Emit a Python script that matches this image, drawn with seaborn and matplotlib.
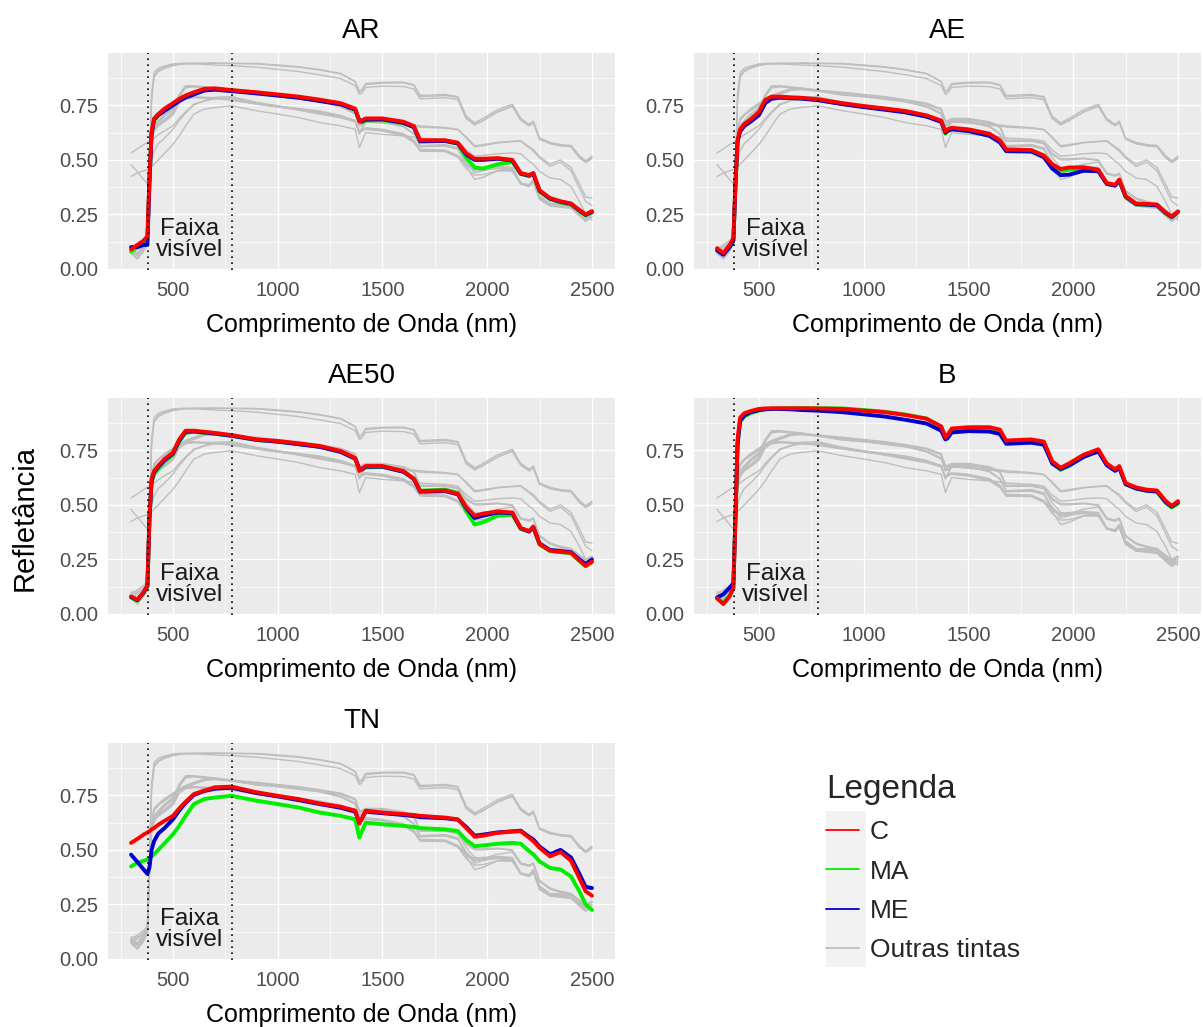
import matplotlib
matplotlib.use("Agg")
import matplotlib.pyplot as plt
import pandas as pd
import seaborn as sns
from matplotlib.lines import Line2D
from matplotlib.patches import Rectangle
from matplotlib.ticker import FixedLocator, FormatStrFormatter

# ---------------- data ----------------
WL = [300, 330, 360, 378, 388, 398, 410, 430, 460, 500, 530, 560, 600, 650, 700, 780,
      900, 1000, 1100, 1200, 1300, 1370, 1390, 1400, 1420, 1500, 1600, 1650, 1680, 1800,
      1860, 1900, 1940, 1980, 2050, 2120, 2160, 2200, 2220, 2250, 2300, 2350, 2400, 2440,
      2470, 2500]

AR_C = [0.09, 0.11, 0.13, 0.15, 0.42, 0.63, 0.69, 0.71, 0.735, 0.76, 0.78, 0.795, 0.81, 0.826, 0.828, 0.82,
        0.81, 0.80, 0.79, 0.776, 0.76, 0.735, 0.675, 0.68, 0.69, 0.69, 0.675, 0.655, 0.59, 0.59,
        0.578, 0.53, 0.505, 0.505, 0.508, 0.50, 0.44, 0.43, 0.44, 0.36, 0.325, 0.31, 0.30, 0.27, 0.25, 0.265]
AR_MA = [0.08, 0.10, 0.12, 0.14, 0.40, 0.62, 0.68, 0.705, 0.73, 0.755, 0.775, 0.79, 0.805, 0.822, 0.825, 0.818,
         0.806, 0.796, 0.786, 0.772, 0.756, 0.73, 0.68, 0.672, 0.68, 0.682, 0.668, 0.65, 0.585, 0.586,
         0.574, 0.51, 0.465, 0.46, 0.48, 0.49, 0.435, 0.425, 0.435, 0.355, 0.32, 0.305, 0.295, 0.265, 0.245, 0.26]
AR_ME = [0.10, 0.10, 0.11, 0.11, 0.40, 0.62, 0.685, 0.705, 0.725, 0.75, 0.77, 0.785, 0.80, 0.818, 0.822, 0.815,
         0.805, 0.795, 0.785, 0.77, 0.755, 0.73, 0.68, 0.676, 0.685, 0.686, 0.67, 0.65, 0.585, 0.587,
         0.575, 0.525, 0.50, 0.50, 0.505, 0.497, 0.437, 0.428, 0.437, 0.358, 0.322, 0.308, 0.298, 0.268, 0.248, 0.262]

AE_C = [0.095, 0.072, 0.11, 0.14, 0.40, 0.59, 0.64, 0.665, 0.685, 0.72, 0.775, 0.79, 0.79, 0.787, 0.785, 0.778,
        0.76, 0.747, 0.736, 0.724, 0.704, 0.68, 0.63, 0.64, 0.647, 0.64, 0.62, 0.59, 0.548, 0.545,
        0.52, 0.48, 0.458, 0.465, 0.466, 0.455, 0.394, 0.386, 0.41, 0.335, 0.30, 0.298, 0.295, 0.26, 0.24, 0.264]
AE_MA = [0.09, 0.07, 0.10, 0.13, 0.38, 0.58, 0.635, 0.66, 0.68, 0.715, 0.77, 0.785, 0.787, 0.784, 0.782, 0.775,
         0.757, 0.744, 0.733, 0.72, 0.70, 0.676, 0.62, 0.635, 0.642, 0.636, 0.615, 0.585, 0.543, 0.54,
         0.515, 0.475, 0.45, 0.455, 0.46, 0.45, 0.39, 0.382, 0.405, 0.33, 0.296, 0.294, 0.29, 0.256, 0.236, 0.26]
AE_ME = [0.085, 0.065, 0.10, 0.13, 0.39, 0.585, 0.63, 0.655, 0.675, 0.705, 0.76, 0.78, 0.785, 0.783, 0.781, 0.774,
         0.755, 0.742, 0.73, 0.718, 0.698, 0.674, 0.625, 0.632, 0.64, 0.632, 0.61, 0.58, 0.54, 0.538,
         0.512, 0.46, 0.43, 0.432, 0.45, 0.448, 0.39, 0.382, 0.405, 0.332, 0.297, 0.295, 0.292, 0.258, 0.238, 0.262]

AE50_C = [0.08, 0.065, 0.10, 0.13, 0.45, 0.62, 0.655, 0.68, 0.71, 0.74, 0.80, 0.84, 0.84, 0.835, 0.83, 0.82,
          0.80, 0.793, 0.782, 0.77, 0.747, 0.715, 0.655, 0.665, 0.678, 0.678, 0.655, 0.62, 0.563, 0.566,
          0.55, 0.49, 0.45, 0.46, 0.47, 0.465, 0.394, 0.38, 0.40, 0.32, 0.29, 0.285, 0.28, 0.245, 0.22, 0.24]
AE50_MA = [0.075, 0.06, 0.095, 0.125, 0.43, 0.60, 0.64, 0.665, 0.70, 0.73, 0.79, 0.83, 0.835, 0.83, 0.826, 0.816,
           0.797, 0.79, 0.779, 0.767, 0.744, 0.71, 0.66, 0.66, 0.672, 0.674, 0.652, 0.62, 0.565, 0.57,
           0.555, 0.47, 0.41, 0.42, 0.45, 0.455, 0.39, 0.377, 0.397, 0.318, 0.288, 0.283, 0.278, 0.243, 0.218, 0.238]
AE50_ME = [0.078, 0.063, 0.098, 0.128, 0.44, 0.61, 0.65, 0.675, 0.705, 0.735, 0.795, 0.835, 0.837, 0.832, 0.827, 0.817,
           0.798, 0.79, 0.778, 0.766, 0.743, 0.712, 0.665, 0.662, 0.675, 0.675, 0.652, 0.618, 0.56, 0.563,
           0.548, 0.485, 0.44, 0.45, 0.465, 0.462, 0.392, 0.378, 0.398, 0.322, 0.293, 0.288, 0.283, 0.25, 0.228, 0.25]

B_C = [0.072, 0.045, 0.08, 0.12, 0.45, 0.80, 0.90, 0.92, 0.93, 0.94, 0.942, 0.943, 0.943, 0.943, 0.943, 0.942,
       0.94, 0.932, 0.925, 0.912, 0.895, 0.86, 0.81, 0.82, 0.85, 0.856, 0.856, 0.845, 0.795, 0.80,
       0.79, 0.70, 0.67, 0.69, 0.73, 0.755, 0.69, 0.663, 0.678, 0.60, 0.58, 0.57, 0.566, 0.52, 0.495, 0.517]
B_MA = [0.07, 0.05, 0.085, 0.12, 0.43, 0.78, 0.88, 0.905, 0.92, 0.932, 0.938, 0.941, 0.942, 0.943, 0.944, 0.943,
        0.942, 0.935, 0.927, 0.914, 0.896, 0.858, 0.815, 0.818, 0.845, 0.852, 0.853, 0.842, 0.79, 0.795,
        0.786, 0.69, 0.66, 0.68, 0.72, 0.748, 0.685, 0.658, 0.672, 0.595, 0.575, 0.565, 0.56, 0.51, 0.488, 0.505]
B_ME = [0.075, 0.09, 0.12, 0.14, 0.45, 0.78, 0.885, 0.91, 0.925, 0.935, 0.938, 0.94, 0.94, 0.938, 0.935, 0.932,
        0.925, 0.915, 0.905, 0.89, 0.873, 0.84, 0.80, 0.805, 0.832, 0.838, 0.836, 0.825, 0.78, 0.785,
        0.776, 0.69, 0.665, 0.68, 0.72, 0.745, 0.682, 0.656, 0.67, 0.595, 0.575, 0.565, 0.562, 0.515, 0.492, 0.512]

TN_C = [0.532, 0.55, 0.57, 0.58, 0.585, 0.594, 0.60, 0.615, 0.633, 0.656, 0.69, 0.72, 0.756, 0.772, 0.787, 0.79,
        0.764, 0.748, 0.733, 0.713, 0.698, 0.68, 0.62, 0.64, 0.68, 0.671, 0.664, 0.66, 0.656, 0.648,
        0.64, 0.60, 0.56, 0.565, 0.578, 0.584, 0.585, 0.556, 0.54, 0.509, 0.47, 0.49, 0.45, 0.37, 0.31, 0.29]
TN_MA = [0.424, 0.44, 0.45, 0.455, 0.46, 0.47, 0.48, 0.50, 0.53, 0.571, 0.61, 0.655, 0.71, 0.733, 0.74, 0.748,
         0.725, 0.71, 0.694, 0.671, 0.656, 0.64, 0.556, 0.58, 0.625, 0.617, 0.61, 0.605, 0.60, 0.594,
         0.586, 0.545, 0.517, 0.52, 0.528, 0.532, 0.528, 0.494, 0.48, 0.447, 0.417, 0.41, 0.378, 0.31, 0.25, 0.224]
TN_ME = [0.478, 0.445, 0.41, 0.39, 0.42, 0.50, 0.54, 0.575, 0.60, 0.64, 0.68, 0.715, 0.752, 0.77, 0.78, 0.785,
         0.76, 0.745, 0.728, 0.71, 0.693, 0.675, 0.625, 0.64, 0.675, 0.668, 0.66, 0.655, 0.65, 0.645,
         0.638, 0.605, 0.565, 0.57, 0.58, 0.585, 0.588, 0.56, 0.548, 0.515, 0.48, 0.50, 0.465, 0.39, 0.33, 0.325]

PAINTS = ["AR", "AE", "AE50", "B", "TN"]
TREATMENTS = ["C", "MA", "ME"]
LEGEND_LABELS = ["C", "MA", "ME", "Outras tintas"]
X_TICKS = [500, 1000, 1500, 2000, 2500]
Y_TICKS = [0.0, 0.25, 0.50, 0.75]
VIS_BAND = [380, 780]

CURVES = {
    ("AR", "C"): AR_C, ("AR", "MA"): AR_MA, ("AR", "ME"): AR_ME,
    ("AE", "C"): AE_C, ("AE", "MA"): AE_MA, ("AE", "ME"): AE_ME,
    ("AE50", "C"): AE50_C, ("AE50", "MA"): AE50_MA, ("AE50", "ME"): AE50_ME,
    ("B", "C"): B_C, ("B", "MA"): B_MA, ("B", "ME"): B_ME,
    ("TN", "C"): TN_C, ("TN", "MA"): TN_MA, ("TN", "ME"): TN_ME,
}

frames = []
for (paint, trat), vals in CURVES.items():
    assert len(vals) == len(WL), (paint, trat, len(vals))
    frames.append(pd.DataFrame({"wl": WL, "refl": vals, "paint": paint,
                                "trat": trat, "grp": paint + "_" + trat}))
df = pd.concat(frames, ignore_index=True)

# ---------------- style ----------------
sns.set_theme(style="darkgrid")
FONT = ["Liberation Sans", "DejaVu Sans"]
plt.rcParams["font.family"] = FONT

PAL = {"C": "#FF0000", "MA": "#00EE00", "ME": "#0000CD"}
GRAY = "#BEBEBE"

W, H = 1203, 1027
fig = plt.figure(figsize=(W / 100, H / 100), dpi=100)
fig.patch.set_facecolor("white")


def rect(l, t, r, b):
    return [l / W, 1 - b / H, (r - l) / W, (b - t) / H]


POS = {
    "AR": (108, 53, 615, 270),
    "AE": (694, 53, 1201, 270),
    "AE50": (108, 398, 615, 615),
    "B": (694, 398, 1201, 615),
    "TN": (108, 743, 615, 960),
}

for p in PAINTS:
    ax = fig.add_axes(rect(*POS[p]))
    ax.set_facecolor("#EBEBEB")
    others = df[df["paint"] != p]
    own = df[df["paint"] == p]
    sns.lineplot(data=others, x="wl", y="refl", units="grp", estimator=None,
                 color=GRAY, lw=1.0, ax=ax, legend=False, sort=False)
    sns.lineplot(data=own, x="wl", y="refl", hue="trat", hue_order=["MA", "ME", "C"],
                 palette=PAL, units="grp", estimator=None, lw=2.8, ax=ax,
                 legend=False, sort=False)
    for v in VIS_BAND:
        ax.axvline(v, color="black", ls=(0, (1, 2.6)), lw=1.2, zorder=3)
    ax.text(578, 0.135, "Faixa\nvisível", ha="center", va="center", fontsize=17.5,
            linespacing=0.95, color="#1A1A1A", zorder=4)

    ax.set_xlim(190, 2610)
    ax.set_ylim(-0.005, 0.99)
    ax.xaxis.set_major_locator(FixedLocator(X_TICKS))
    ax.yaxis.set_major_locator(FixedLocator(Y_TICKS))
    ax.xaxis.set_minor_locator(FixedLocator([250, 750, 1250, 1750, 2250]))
    ax.yaxis.set_minor_locator(FixedLocator([0.125, 0.375, 0.625, 0.875]))
    ax.yaxis.set_major_formatter(FormatStrFormatter("%.2f"))
    ax.grid(which="major", color="white", lw=1.0)
    ax.grid(which="minor", color="white", lw=0.5)
    ax.tick_params(which="major", direction="out", length=4, width=0.9,
                   color="#333333", labelsize=14.5, labelcolor="#4D4D4D", pad=3)
    ax.tick_params(axis="x", which="major", pad=4)
    ax.tick_params(which="minor", length=0)
    for s in ax.spines.values():
        s.set_visible(False)
    ax.set_axisbelow(True)
    ax.set_title(p, fontsize=20, pad=11, color="black")
    ax.set_xlabel("Comprimento de Onda (nm)", fontsize=18, labelpad=9, color="black")
    ax.set_ylabel("")

fig.text(25 / W, 1 - 518 / H, "Refletância", rotation=90, ha="center", va="center",
         fontsize=21, color="black")

# legend
fig.patches.append(Rectangle((826 / W, 1 - 967 / H), 40 / W, 156 / H,
                             transform=fig.transFigure, facecolor="#F2F2F2",
                             edgecolor="none", zorder=1))
handles = [Line2D([], [], color=PAL["C"], lw=1.3),
           Line2D([], [], color=PAL["MA"], lw=1.3),
           Line2D([], [], color=PAL["ME"], lw=1.3),
           Line2D([], [], color=GRAY, lw=1.3)]
leg = fig.legend(handles, LEGEND_LABELS, title="Legenda", loc="upper left",
                 bbox_to_anchor=(826 / W, 1 - 774 / H), frameon=False,
                 fontsize=19, title_fontsize=24, handlelength=1.25,
                 handletextpad=0.4, labelspacing=0.58, borderpad=0,
                 borderaxespad=0, alignment="left")
leg.set_zorder(5)

fig.savefig("out.png", dpi=100)
